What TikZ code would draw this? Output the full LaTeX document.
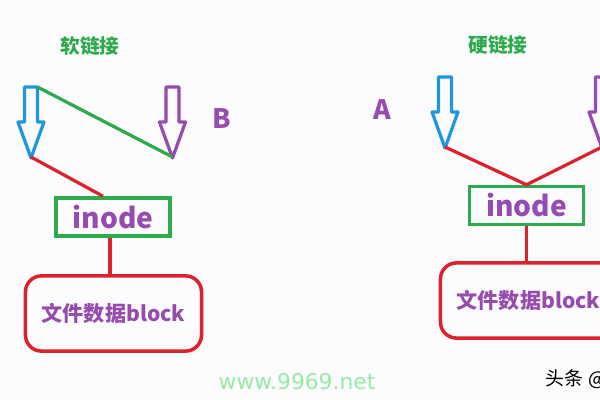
\documentclass[tikz,border=0pt]{standalone}
\usepackage{fontspec}
\newfontfamily\cjk{Noto Sans CJK SC}
\newfontfamily\wmfont{DejaVu Sans}
\usetikzlibrary{calc}

\definecolor{lgreen}{RGB}{45,170,75}
\definecolor{lblue}{RGB}{30,150,225}
\definecolor{lpurple}{RGB}{150,75,175}
\definecolor{lred}{RGB}{220,35,45}
\definecolor{wmgreen}{RGB}{150,235,165}
\definecolor{bgcol}{RGB}{252,251,253}

% hollow down arrow: name, colour, centre x, top y
\newcommand{\downarr}[4]{%
  \draw[arr, #2] (#3-6.5,#4) -- ++(13,0) -- ++(0,35) -- ++(6.5,0)
    -- (#3,#4+71) -- ++(-13,-36) -- ++(6.5,0) -- cycle;
  \coordinate (#1-top) at (#3+6.5,#4);
  \coordinate (#1-tip) at (#3,#4+70);
}

\begin{document}
\begin{tikzpicture}[
      x=0.025cm, y=-0.025cm,
      arr/.style={line width=2.3pt, line join=round},
      ibox/.style={draw=lgreen, line width=2.5pt, inner sep=0pt,
                   minimum width=2.85cm, minimum height=0.95cm,
                   font=\cjk\bfseries\fontsize{20}{24}\selectfont, text=lpurple},
      blk/.style={draw=lred, line width=2.5pt, rounded corners=0.4cm,
                  minimum width=4.4cm, minimum height=1.88cm,
                  font=\cjk\bfseries\fontsize{15}{18}\selectfont, text=lpurple},
      title/.style={font=\cjk\bfseries\fontsize{14}{17}\selectfont, text=lgreen},
      letter/.style={font=\cjk\bfseries\fontsize{19}{23}\selectfont, text=lpurple},
      link/.style={line width=2.3pt}
    ]
    \useasboundingbox (0,0) rectangle (600,400);
    \fill[bgcol] (0,0) rectangle (600,400);
    \clip (0,0) rectangle (600,400);

    % soft link
    \node[title] (soft) at (90,46) {软链接};
    \downarr{sa}{lblue}{31}{87}
    \downarr{sb}{lpurple}{172.5}{87}
    \node[letter] (lb) at (222,119) {B};
    \node[ibox] (ino1) at (113,217) {inode};
    \node[blk]  (blk1) at (113.5,313.5) {文件数据block};
    \draw[link, lgreen] (sa-top) -- (sb-tip);
    \draw[link, lred] (sa-tip) -- ($(ino1.north)+(-10,0)$);
    \draw[link, lred] ($(ino1.south)+(-3,0)$) -- ($(blk1.north)+(-3.5,0)$);

    % hard link
    \node[title] (hard) at (498,45) {硬链接};
    \node[letter] (la) at (382,110) {A};
    \downarr{ha}{lblue}{445}{77}
    \downarr{hb}{lpurple}{602}{77}
    \node[ibox] (ino2) at (526.5,205.5) {inode};
    \node[blk]  (blk2) at (528.5,300.5) {文件数据block};
    \draw[link, lred] (ha-tip) -- (ino2.north) -- (hb-tip);
    \draw[link, lred] (ino2.south) -- (ino2.south |- blk2.north);

    % watermarks
    \node[font=\wmfont\fontsize{15.5}{18}\selectfont, text=wmgreen] (site) at (297,382) {www.9969.net};
    \node[anchor=west, font=\cjk\fontsize{13.5}{16}\selectfont] (src) at (541,379) {头条 @};
  \end{tikzpicture}
\end{document}
